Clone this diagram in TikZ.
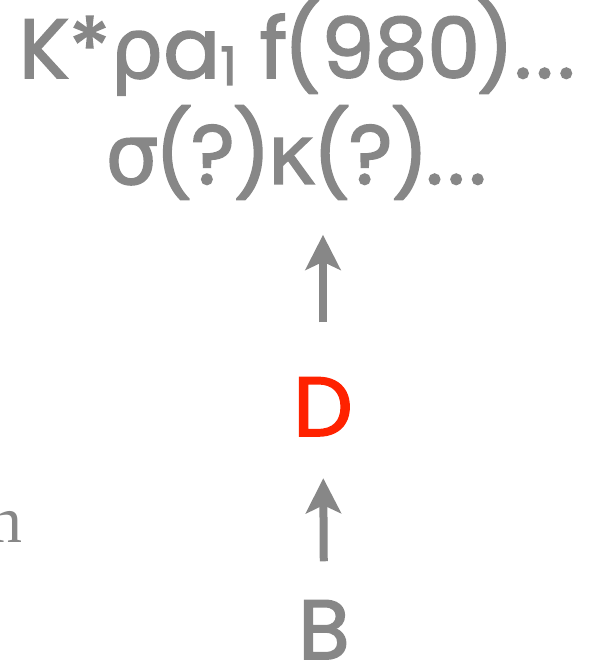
\documentclass[tikz,border=0pt]{standalone}
\usepackage{fontspec}
\setmainfont{Poppins}[FakeBold=2]
\newfontfamily\grk{DejaVu Sans}[FakeBold=1.5]
\newfontfamily\serifn{Liberation Serif}
\usepackage{xcolor}
\usetikzlibrary{arrows.meta, positioning, calc}
\definecolor{hadgray}{RGB}{135,135,135}
\definecolor{charmred}{RGB}{255,34,0}
\newcommand{\etcdots}{.\kern4pt.\kern4pt.}

\begin{document}
\begin{tikzpicture}[x=1pt, y=-1pt,
    label/.style={inner sep=0pt, anchor=base, text=hadgray, font=\fontsize{84}{84}\selectfont},
    uparrow/.style={-{Stealth[length=35pt, width=35pt, inset=8pt]}, line width=8pt, draw=hadgray}
]
    \useasboundingbox (0,0) rectangle (589,660);
    \node[label] (states) at (297,78) {K*{\grk ρ}a\raisebox{-7pt}{\fontsize{53}{53}\selectfont 1} f\kern-4pt(980\kern-4pt)\etcdots};
    \node[label] (scalars) at (296,184) {{\grk σ}\kern-4pt(\kern-2pt?\kern-2pt)\kern-4pt{\grk κ}\kern-4pt(\kern-2pt?\kern-2pt)\kern-3pt\etcdots};
    \node[label, text=charmred] (dmeson) at (323,436) {D};
    \node[label] (bmeson) at (324,659) {B};
    \node[label, anchor=base east, font=\serifn\fontsize{66}{66}\selectfont] (cut) at (23,542) {n};

    \draw[uparrow, shorten <=55pt, shorten >=35pt] (dmeson.north) -- (dmeson.north |- scalars.south);
    \draw[uparrow, shorten <=39pt, shorten >=42pt] (bmeson.north) -- (dmeson.south);
\end{tikzpicture}
\end{document}
